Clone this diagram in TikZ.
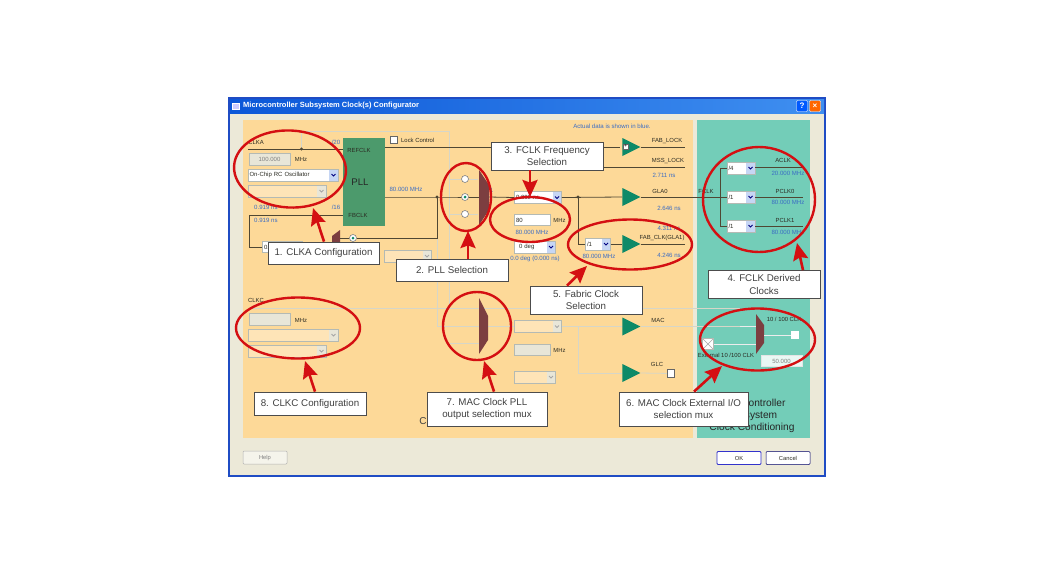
\documentclass[tikz,border=0pt]{standalone}
\usepackage{fontspec}
\setmainfont{Liberation Sans}
\usetikzlibrary{arrows.meta,shapes.geometric}
\definecolor{winblue}{HTML}{1F4CC4}
\definecolor{winbody}{HTML}{ECE9D8}
\definecolor{titleleft}{HTML}{0B57D8}
\definecolor{titleright}{HTML}{3F8FF0}
\definecolor{panelorange}{HTML}{FDD998}
\definecolor{panelteal}{HTML}{73CDB8}
\definecolor{pllgreen}{HTML}{4C9A6C}
\definecolor{ampgreen}{HTML}{0E8A68}
\definecolor{muxbrown}{HTML}{7C3E40}
\definecolor{wiredark}{HTML}{4F4733}
\definecolor{wirelight}{HTML}{D6D6C8}
\definecolor{datablue}{HTML}{3A6CC4}
\definecolor{markred}{HTML}{D40F12}
\definecolor{fieldgrey}{HTML}{E8E6D8}
\definecolor{edgegrey}{HTML}{B4BAB4}
\definecolor{combobtn}{HTML}{C6D6F4}
\definecolor{uitext}{HTML}{2B2B22}
\tikzset{
	wire/.style={draw=wiredark,line width=0.8pt},
	lightwire/.style={draw=wirelight,line width=0.8pt},
	tiny/.style={font=\fontsize{5.9}{7}\selectfont,text=uitext,inner sep=0pt},
	datatext/.style={font=\fontsize{6.1}{7}\selectfont,text=datablue,inner sep=0pt},
	entry/.style={draw=edgegrey,fill=white,line width=0.7pt,minimum width=#1,minimum height=11.5,inner sep=1.5pt,font=\fontsize{6}{7}\selectfont,text=uitext},
	offentry/.style={entry=#1,fill=fieldgrey,text=gray},
	combo/.style={draw=edgegrey,fill=white,line width=0.7pt,text width=#1,minimum height=12,inner sep=1.5pt,font=\fontsize{6}{7}\selectfont,text=uitext,
		path picture={
			\fill[combobtn] ([xshift=-9]path picture bounding box.north east) rectangle (path picture bounding box.south east);
			\draw[blue!50!black,line width=0.9pt] ([xshift=-6.5,yshift=1]path picture bounding box.east) -- ([xshift=-4.5,yshift=-1]path picture bounding box.east) -- ([xshift=-2.5,yshift=1]path picture bounding box.east);
		}},
	offcombo/.style={draw=edgegrey,fill=panelorange!70!white,line width=0.7pt,text width=#1,minimum height=12,inner sep=1.5pt,
		path picture={
			\fill[fieldgrey] ([xshift=-9]path picture bounding box.north east) rectangle (path picture bounding box.south east);
			\draw[gray!70,line width=0.9pt] ([xshift=-6.5,yshift=1]path picture bounding box.east) -- ([xshift=-4.5,yshift=-1]path picture bounding box.east) -- ([xshift=-2.5,yshift=1]path picture bounding box.east);
		}},
	radio/.style={circle,draw=gray,fill=white,line width=0.6pt,minimum size=7,inner sep=0pt},
	radioon/.style={radio,path picture={\fill[ampgreen] (path picture bounding box.center) circle (1.5);}},
	tickbox/.style={draw=gray!80!black,fill=white,line width=0.7pt,minimum size=#1,inner sep=0pt},
	driver/.style={isosceles triangle,isosceles triangle apex angle=90,isosceles triangle stretches,fill=ampgreen,minimum width=18,minimum height=18,inner sep=0pt},
	winbutton/.style={draw=gray!50!black,fill=white,line width=0.5pt,rounded corners=1,minimum width=44,minimum height=13,inner sep=0pt,font=\fontsize{5.8}{7}\selectfont,text=uitext},
	ring/.style={ellipse,draw=markred,line width=2.4pt,inner sep=0pt},
	pointer/.style={draw=markred,line width=2.6pt,-{Stealth[length=17,width=15,inset=2.5]}},
	callout/.style={draw=black!70,fill=white,line width=0.8pt,align=center,inner sep=0pt,font=\fontsize{9.75}{12.4}\selectfont,text=black!75},
}
\begin{document}
\begin{tikzpicture}[x=1pt,y=-1pt]
	\useasboundingbox (0,0) rectangle (1054,574);
	\fill[white] (0,0) rectangle (1054,574);
	\draw[draw=winblue,fill=winbody,line width=2pt] (229,98) rectangle (825,476);
	\shade[left color=titleleft,right color=titleright] (230,99) rectangle (824,113);
	\fill[panelorange] (243,120) rectangle (693,438);
	\fill[panelteal] (697,120) rectangle (810,438);
	\node[draw=white,fill=white!80!blue,minimum width=7,minimum height=6,inner sep=0pt] (appicon) at (236,106) {};
	\node[anchor=west,inner sep=0pt,text=white,font=\bfseries\fontsize{7.5}{8}\selectfont] (wintitle) at (243,106) {Microcontroller Subsystem Clock(s) Configurator};
	\node[fill=blue!65!cyan,draw=white,rounded corners=1,minimum size=11,inner sep=0pt,text=white,font=\bfseries\fontsize{8}{9}\selectfont] (helpbtn) at (802,106) {?};
	\node[fill=orange!80!red,draw=white,rounded corners=1,minimum size=11,inner sep=0pt,text=white,font=\bfseries\fontsize{8}{9}\selectfont] (closebtn) at (815,106) {×};

	\coordinate (clkaend) at (248,149);
	\coordinate (clkadot) at (301.5,149);
	\coordinate (framea) at (301.5,131);
	\coordinate (frameb) at (449,131);
	\coordinate (framec) at (449,308);
	\coordinate (framed) at (437,238);
	\coordinate (framee) at (437,326);
	\coordinate (framef) at (514,326);
	\coordinate (clkcend) at (248,308);
	\coordinate (clkcout) at (740,308);
	\draw[lightwire] (clkadot) -- (framea) -- (frameb) -- (framec);
	\draw[lightwire] (framed) -- (framee) -- (framef);
	\draw[lightwire] (clkcend) -- (clkcout);

	\node[tiny] (clkalabel) at (256,142) {CLKA};
	\node[offentry=41,text=gray] (clkafreq) at (269.5,159.5) {100.000};
	\node[tiny] (clkaunit) at (301,159.5) {MHz};
	\node[combo=87] (clkasource) at (293,175) {On-Chip RC Oscillator};
	\node[offcombo=75] (clkaextra) at (287,191) {};
	\node[datatext] (divtop) at (336,142) {/20};
	\node[datatext] (divbottom) at (336,207) {/16};
	\node[datatext,anchor=west] (delaya) at (254,207) {0.919 ns};
	\node[datatext,anchor=west] (delayb) at (254,220) {0.919 ns};
	\node[fill=pllgreen,minimum width=42,minimum height=88,inner sep=0pt] (pll) at (364,182) {};
	\node[inner sep=0pt,font=\fontsize{9.6}{11}\selectfont,text=black!85] (plltext) at (360,182) {PLL};
	\node[tiny] (refclk) at (359,150) {REFCLK};
	\node[tiny] (fbclk) at (358,215) {FBCLK};
	\node[tickbox=7.5] (lockbox) at (394,140) {};
	\node[tiny,anchor=west] (locktext) at (401,140) {Lock Control};
	\node[datatext] (pllfreq) at (406,189) {80.000 MHz};
	\node[entry=40,text width=36] (fbdelay) at (282,247) {0.};
	\node[offcombo=44] (fbcombo) at (408,256) {};
	\node[radioon] (fbradio) at (353,238) {};
	\fill[muxbrown] (340,230) -- (332,236) -- (332,252) -- (340,252) -- cycle;

	\coordinate (refout) at (620,147);
	\coordinate (msslock) at (685,167);
	\coordinate (fbleft) at (249,215);
	\coordinate (fbdown) at (249,247);
	\coordinate (plldot) at (437,197);
	\coordinate (fbcorner) at (437,238);
	\coordinate (muxtop) at (478,179);
	\coordinate (muxmid) at (479,197);
	\coordinate (muxlow) at (478,214);
	\coordinate (muxout) at (489,197);
	\coordinate (fbmux) at (340,238);
	\draw[wire] (clkaend) -- (pll.west |- clkaend);
	\draw[wire] (pll.east |- refout) -- (refout);
	\draw[wire] (pll.west |- fbleft) -- (fbleft) -- (fbdown) -- (fbdelay.west);
	\draw[wire] (fbradio) -- (fbcorner) -- (plldot);
	\draw[wire] (fbmux) -- (fbradio);
	\draw[wire] (pll.east |- plldot) -- (plldot) -- (muxmid);
	\fill[wiredark] (clkadot) circle (1.7);
	\fill[wiredark] (plldot) circle (1.7);

	\node[radio] (radioa) at (465,179) {};
	\node[radioon] (radiob) at (465,197) {};
	\node[radio] (radioc) at (465,214) {};
	\draw[lightwire] (radioa -| 449,0) -- (radioa) -- (muxtop);
	\draw[lightwire] (radioc -| 449,0) -- (radioc) -- (muxlow);
	\fill[muxbrown] (479,170) -- (489,185) -- (489,210) -- (479,225) -- cycle;
	\node[datatext] (muxsel) at (491.5,190) {1};

	\node[combo=44] (fclkdelay) at (538,197.5) {0.000 ns};
	\node[entry=36,text width=32] (fclkfreq) at (532,220) {80};
	\node[tiny] (fclkunit) at (558,220) {\hspace{3pt}MHz};
	\node[datatext] (fclkactual) at (532,232) {80.000 MHz};
	\node[combo=38] (fclkphase) at (535,247) {\hspace{3pt}0 deg};
	\node[datatext] (fclkphasetext) at (535,259) {0.0 deg (0.000 ns)};
	\node[combo=22] (fabdiv) at (598,244) {/1};
	\node[datatext] (fabfreq) at (599,256) {80.000 MHz};

	\node[driver] (lockamp) at (628,147) {};
	\node[tickbox=5,font=\fontsize{5}{5}\selectfont] (lockplus) at (625.5,146.5) {+};
	\node[driver] (glazero) at (628,197) {};
	\node[driver] (fabamp) at (628,244) {};
	\node[driver] (macamp) at (628,326.5) {};
	\node[driver] (glcamp) at (628,373) {};

	\coordinate (lockend) at (685,147);
	\coordinate (glaturn) at (720,197);
	\coordinate (fabdot) at (578,197);
	\coordinate (fabdown) at (578,244);
	\coordinate (fabend) at (685,244);
	\coordinate (mssstart) at (603,167);
	\draw[wire] (muxout) -- (fclkdelay.west);
	\draw[wire] (fclkdelay.east) -- (glazero.lower side);
	\draw[wire] (fabdot) -- (fabdown) -- (fabdiv.west);
	\draw[wire] (fabdiv.east) -- (fabamp.lower side);
	\draw[wire] (fabamp.apex) -- (fabend);
	\draw[wire] (lockamp.apex) -- (lockend);
	\draw[wire] (mssstart) -- (msslock);
	\draw[wire] (glazero.apex) -- (glaturn);
	\fill[wiredark] (fabdot) circle (1.7);

	\node[tiny] (fablock) at (667,141) {FAB\_LOCK};
	\node[tiny] (mslock) at (668,161) {MSS\_LOCK};
	\node[datatext] (msstime) at (664,175) {2.711 ns};
	\node[tiny] (glatext) at (660,191) {GLA0};
	\node[datatext] (glatime) at (669,208) {2.646 ns};
	\node[datatext] (fabtimea) at (669,228) {4.311 ns};
	\node[tiny] (fabtext) at (662,238) {FAB\_CLK(GLA1)};
	\node[datatext] (fabtimeb) at (669,255) {4.246 ns};
	\node[datatext] (actualnote) at (612,126) {Actual data is shown in blue.};
	\node[tiny] (fclklabel) at (706,191) {FCLK};

	\node[combo=25] (aclkdiv) at (741,168) {/4};
	\node[combo=25] (pclkzdiv) at (741,197) {/1};
	\node[combo=25] (pclkodiv) at (741,226) {/1};
	\coordinate (aclkend) at (803,167);
	\coordinate (pclkzend) at (803,197);
	\coordinate (pclkoend) at (803,226);
	\coordinate (splittop) at (720,168);
	\coordinate (splitlow) at (720,226);
	\draw[wire] (aclkdiv.west) -- (splittop) -- (splitlow) -- (pclkodiv.west);
	\draw[wire] (glaturn) -- (pclkzdiv.west);
	\draw[wire] (aclkdiv.east |- aclkend) -- (aclkend);
	\draw[wire] (pclkzdiv) -- (pclkzend);
	\draw[wire] (pclkodiv) -- (pclkoend);
	\node[tiny] (aclktext) at (783,160) {ACLK};
	\node[datatext] (aclkfreq) at (788,173) {20.000 MHz};
	\node[tiny] (pclkztext) at (785,191) {PCLK0};
	\node[datatext] (pclkzfreq) at (788,202) {80.000 MHz};
	\node[tiny] (pclkotext) at (785,220) {PCLK1};
	\node[datatext] (pclkofreq) at (788,232) {80.000 MHz};

	\node[tiny] (clkclabel) at (256,300) {CLKC};
	\node[offentry=41] (clkcfreq) at (269.5,319.5) {};
	\node[tiny] (clkcunit) at (301,320) {MHz};
	\node[offcombo=87] (clkcsource) at (293,335) {};
	\node[offcombo=75] (clkcextra) at (287,351) {};
	\coordinate (lightone) at (450,326);
	\coordinate (lighttwo) at (479,326);
	\coordinate (lightthree) at (450,343);
	\coordinate (lightfour) at (479,343);
	\draw[lightwire] (lightone) -- (lighttwo);
	\draw[lightwire] (lightthree) -- (lightfour);
	\fill[muxbrown] (479,298) -- (488,316) -- (488,340) -- (479,354) -- cycle;
	\node[offcombo=44] (maccombo) at (538,326.5) {};
	\node[offentry=36] (macfreq) at (532,350) {};
	\node[tiny] (macunit) at (558,350.5) {\hspace{3pt}MHz};
	\node[offcombo=38] (macphase) at (535,377) {};
	\coordinate (macturn) at (578,326.5);
	\coordinate (macdown) at (578,373);
	\coordinate (macend) at (740,326.5);
	\draw[lightwire] (maccombo.east) -- (macamp.lower side);
	\draw[lightwire] (macturn) -- (macdown) -- (glcamp.lower side);
	\draw[lightwire] (macamp.apex) -- (macend);
	\node[tickbox=7.5] (glcbox) at (671,373.5) {};
	\draw[lightwire] (glcamp.apex) -- (glcbox);
	\node[tiny] (mactext) at (658,320) {MAC};
	\node[tiny] (glctext) at (657,364) {GLC};
	\node[inner sep=0pt,font=\fontsize{10}{12}\selectfont,text=black!75] (hiddentext) at (423,421) {C};

	\fill[muxbrown] (756,314) -- (764,325) -- (764,343) -- (756,354) -- cycle;
	\node[draw=edgegrey,fill=white,minimum size=11,inner sep=0pt,path picture={\draw[gray!70] (path picture bounding box.north west) -- (path picture bounding box.south east) (path picture bounding box.north east) -- (path picture bounding box.south west);}] (extbox) at (708,344) {};
	\node[tickbox=7,draw=white] (clockbox) at (795,335) {};
	\coordinate (extmux) at (756,344);
	\coordinate (clockmux) at (764,335);
	\coordinate (macmux) at (756,326.5);
	\draw[white!85!gray,line width=0.8pt] (macend) -- (macmux);
	\draw[white!85!gray,line width=0.8pt] (extbox) -- (extmux);
	\draw[white!85!gray,line width=0.8pt] (clockmux) -- (clockbox);
	\node[tiny] (clockname) at (784,319) {10 / 100 CLK};
	\node[tiny] (extname) at (726,355) {External 10 /100 CLK};
	\node[entry=41,fill=white!85!panelteal,draw=white!80!gray,text=gray] (clockfreq) at (781.5,361) {50.000};
	\node[inner sep=0pt,align=center,font=\fontsize{10.2}{12}\selectfont,text=black!85] (panelname) at (752,416) {Microcontroller\\Subsystem\\Clock Conditioning};

	\node[winbutton,draw=gray!60,text=gray,fill=winbody!50!white] (helpkey) at (265,457.5) {Help};
	\node[winbutton,draw=blue!60!gray,line width=0.9pt] (okkey) at (739,458) {OK};
	\node[winbutton,draw=blue!40!black] (cancelkey) at (788,458) {Cancel};

	\node[ring,minimum width=112,minimum height=77,rotate=-3] (ringa) at (290,169) {};
	\node[ring,minimum width=50,minimum height=68] (ringb) at (466,197) {};
	\node[ring,minimum width=80,minimum height=45] (ringc) at (530,219.5) {};
	\node[ring,minimum width=112,minimum height=105] (ringd) at (759,199.5) {};
	\node[ring,minimum width=124,minimum height=50] (ringe) at (630,244.5) {};
	\node[ring,minimum width=115,minimum height=62] (ringf) at (757.5,339.5) {};
	\node[ring,minimum width=68,minimum height=68] (ringg) at (477,326) {};
	\node[ring,minimum width=124,minimum height=61] (ringh) at (298,328) {};

	\node[callout,minimum width=111,minimum height=22] (calla) at (323.5,253) {1. CLKA Configuration};
	\node[callout,minimum width=112,minimum height=22] (callb) at (452,270) {2. PLL Selection};
	\node[callout,minimum width=112,minimum height=28] (callc) at (547,156) {3. FCLK Frequency\\Selection};
	\node[callout,minimum width=112,minimum height=28] (calld) at (764,284.5) {4. FCLK Derived\\Clocks};
	\node[callout,minimum width=112,minimum height=28] (calle) at (586,300) {5. Fabric Clock\\Selection};
	\node[callout,minimum width=129,minimum height=34] (callf) at (683.5,409) {6. MAC Clock External I/O\\selection mux};
	\node[callout,minimum width=120,minimum height=34] (callg) at (487,409) {7. MAC Clock PLL\\output selection mux};
	\node[callout,minimum width=112,minimum height=23] (callh) at (310,403.5) {8. CLKC Configuration};

	\coordinate (tipa) at (313,208);
	\coordinate (tipb) at (468,231);
	\coordinate (tipc) at (530,197);
	\coordinate (tipd) at (797,243);
	\coordinate (tipe) at (587,266);
	\coordinate (tipf) at (722,366);
	\coordinate (tipg) at (484,361);
	\coordinate (tiph) at (305,361);
	\draw[pointer] (calla.north -| 324,0) -- (tipa);
	\draw[pointer] (callb.north -| 468,0) -- (tipb);
	\draw[pointer] (callc.south -| 530,0) -- (tipc);
	\draw[pointer] (calld.north -| 803,0) -- (tipd);
	\draw[pointer] (calle.north -| 567,0) -- (tipe);
	\draw[pointer] (callf.north -| 694,0) -- (tipf);
	\draw[pointer] (callg.north -| 494,0) -- (tipg);
	\draw[pointer] (callh.north -| 315,0) -- (tiph);
\end{tikzpicture}
\end{document}
